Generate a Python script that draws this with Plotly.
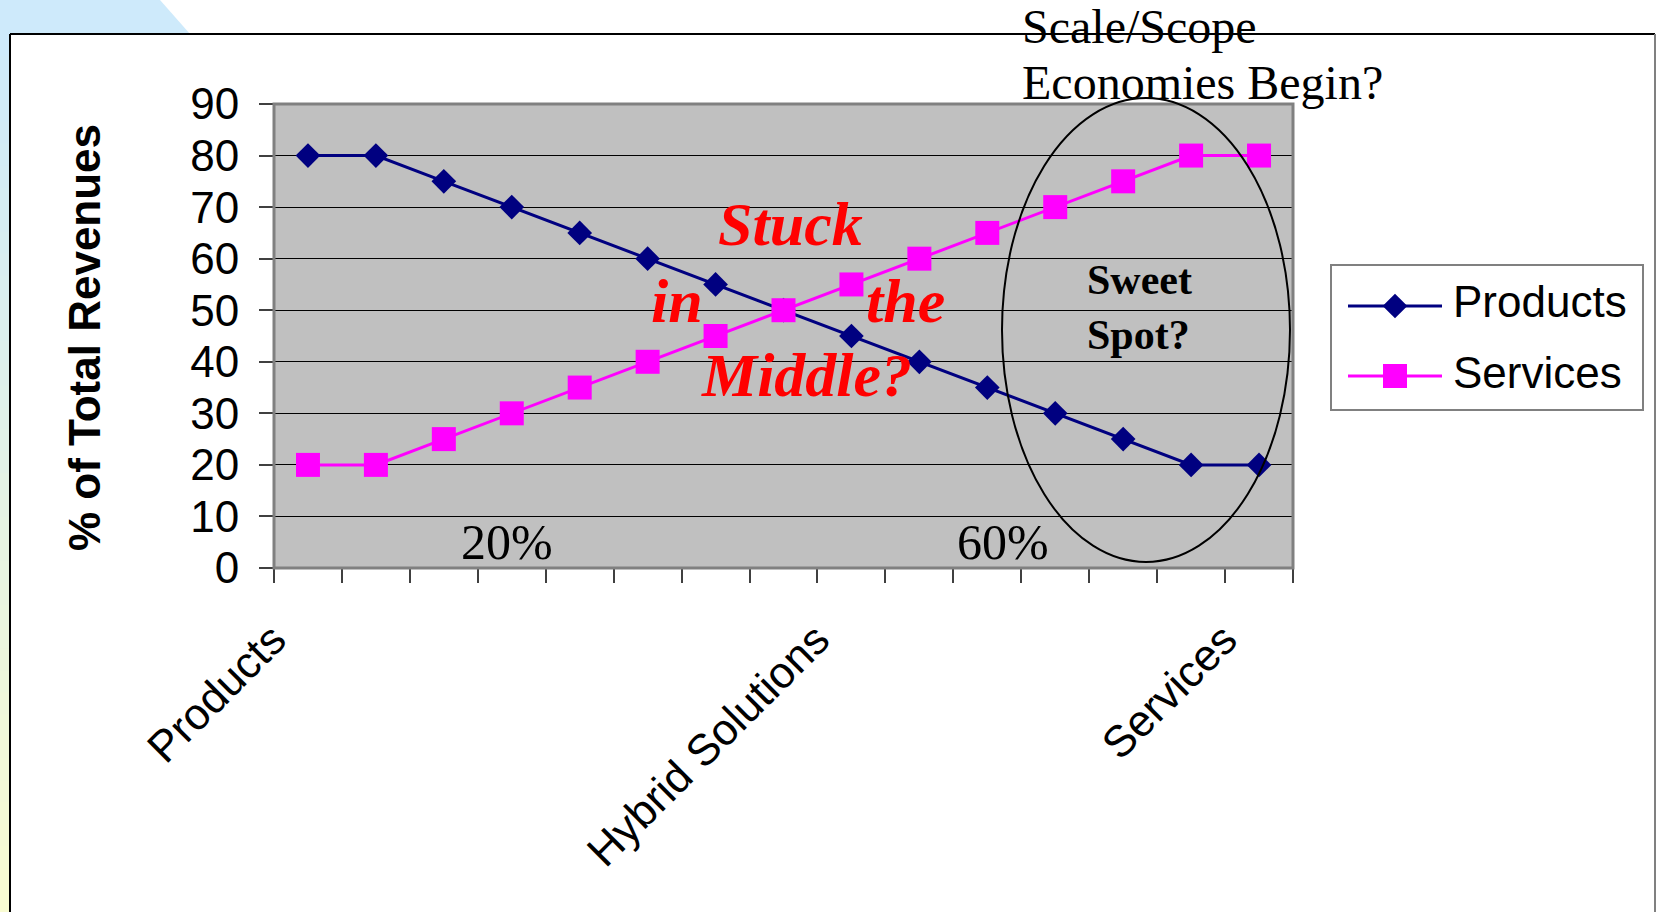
import numpy as np
import plotly.graph_objects as go

W, H = 1656, 912

# ---- data -------------------------------------------------------------
stages = list(range(1, 16))
products_pct = [80, 80, 75, 70, 65, 60, 55, 50, 45, 40, 35, 30, 25, 20, 20]
services_pct = [20, 20, 25, 30, 35, 40, 45, 50, 55, 60, 65, 70, 75, 80, 80]
stage_tick_pos = [1, 9, 15]
stage_tick_text = ["Products", "Hybrid Solutions", "Services"]
y_tick_vals = [0, 10, 20, 30, 40, 50, 60, 70, 80, 90]
series_names = ["Products", "Services"]

NAVY = "#000080"
MAGENTA = "#FF00FF"
SERIF = "Liberation Serif, Times New Roman, serif"
SANS = "Liberation Sans, Arial, sans-serif"
SANS_SIZE = 44
DIAMOND_SIZE = 19
SQUARE_SIZE = 24


def px(x):
    return x / W


def py(y):
    return 1 - y / H


fig = go.Figure()

fig.add_trace(go.Scatter(
    x=stages, y=products_pct, name=series_names[0], mode="lines+markers",
    line=dict(color=NAVY, width=3),
    marker=dict(symbol="diamond", size=DIAMOND_SIZE, color=NAVY, opacity=1, line=dict(width=0)),
    showlegend=False, hoverinfo="x+y+name"))
fig.add_trace(go.Scatter(
    x=stages, y=services_pct, name=series_names[1], mode="lines+markers",
    line=dict(color=MAGENTA, width=3),
    marker=dict(symbol="square", size=SQUARE_SIZE, color=MAGENTA, opacity=1, line=dict(width=0)),
    showlegend=False, hoverinfo="x+y+name"))

# legend samples drawn on a full-page pixel overlay axis
legend_rows = [306, 376]
for color, sym, size, row in [(NAVY, "diamond", DIAMOND_SIZE, legend_rows[0]),
                              (MAGENTA, "square", SQUARE_SIZE, legend_rows[1])]:
    fig.add_trace(go.Scatter(
        x=[1348, 1442], y=[row, row], mode="lines",
        line=dict(color=color, width=3),
        xaxis="x2", yaxis="y2", showlegend=False, hoverinfo="skip"))
    fig.add_trace(go.Scatter(
        x=[1395], y=[row], mode="markers",
        marker=dict(symbol=sym, size=size, color=color, opacity=1, line=dict(width=0)),
        xaxis="x2", yaxis="y2", showlegend=False, hoverinfo="skip"))

shapes = []

# slide background: blue corner and left gradient strip
shapes.append(dict(type="path", xref="paper", yref="paper", layer="below",
                   path=f"M0,1 L{px(160)},1 L{px(190)},{py(34)} L0,{py(34)} Z",
                   fillcolor="#CEEAFB", line=dict(width=0)))
c_top = np.array([206, 234, 251])
c_bot = np.array([249, 252, 210])
n_steps = 40
edges = np.linspace(34, H, n_steps + 1)
for i in range(n_steps):
    c = c_top + (c_bot - c_top) * (i / (n_steps - 1))
    shapes.append(dict(type="rect", xref="paper", yref="paper", layer="below",
                       x0=0, x1=px(10), y0=py(edges[i + 1] + 1), y1=py(edges[i]),
                       fillcolor=f"rgb({int(c[0])},{int(c[1])},{int(c[2])})",
                       line=dict(width=0)))
# white slide box borders
shapes.append(dict(type="line", xref="paper", yref="paper", layer="below",
                   x0=px(10), x1=px(1655), y0=py(34), y1=py(34),
                   line=dict(color="#000000", width=2)))
shapes.append(dict(type="line", xref="paper", yref="paper", layer="below",
                   x0=px(10), x1=px(10), y0=py(34), y1=0,
                   line=dict(color="#000000", width=2)))
shapes.append(dict(type="line", xref="paper", yref="paper", layer="below",
                   x0=px(1655), x1=px(1655), y0=py(34), y1=0,
                   line=dict(color="#808080", width=2)))

# plot area fill and border
shapes.append(dict(type="rect", xref="x domain", yref="y domain", layer="below",
                   x0=0, x1=1, y0=0, y1=1, fillcolor="#C0C0C0", line=dict(width=0)))
shapes.append(dict(type="rect", xref="x domain", yref="y domain", layer="above",
                   x0=0, x1=1, y0=0, y1=1, line=dict(color="#808080", width=3)))

# sweet-spot ellipse
shapes.append(dict(type="circle", xref="paper", yref="paper", layer="above",
                   x0=px(1002), x1=px(1290), y0=py(562), y1=py(98),
                   line=dict(color="#000000", width=2)))

# legend box
shapes.append(dict(type="rect", xref="paper", yref="paper", layer="below",
                   x0=px(1331), x1=px(1643), y0=py(410), y1=py(265),
                   fillcolor="#FFFFFF", line=dict(color="#808080", width=2)))

annotations = []


def note(text, x, y, size, family, color="#000000", xanchor="center", angle=0):
    annotations.append(dict(text=text, x=px(x), y=py(y), xref="paper", yref="paper",
                            xanchor=xanchor, yanchor="middle", showarrow=False,
                            textangle=angle, font=dict(size=size, family=family, color=color)))


note("<b>% of Total Revenues</b>", 84, 338, SANS_SIZE, SANS, angle=-90)
note("<b><i>Stuck</i></b>", 790, 224, 62, SERIF, "#FF0000")
note("<b><i>in</i></b>", 677, 301, 62, SERIF, "#FF0000")
note("<b><i>the</i></b>", 905, 301, 62, SERIF, "#FF0000")
note("<b><i>Middle?</i></b>", 806, 375, 62, SERIF, "#FF0000")
note("<b>Sweet</b>", 1085, 280, 42, SERIF, xanchor="left")
note("<b>Spot?</b>", 1085, 335, 42, SERIF, xanchor="left")
note("20%", 507, 542, 50, SERIF)
note("60%", 1003, 542, 50, SERIF)
note("Scale/Scope", 1020, 26, 48, SERIF, xanchor="left")
note("Economies Begin?", 1020, 82, 48, SERIF, xanchor="left")
note(series_names[0], 1451, 301, SANS_SIZE, SANS, xanchor="left")
note(series_names[1], 1451, 372, SANS_SIZE, SANS, xanchor="left")

fig.update_layout(
    template="none",
    width=W, height=H, autosize=False,
    margin=dict(l=0, r=0, t=0, b=0, pad=0, autoexpand=False),
    paper_bgcolor="#FFFFFF", plot_bgcolor="rgba(0,0,0,0)",
    showlegend=False,
    shapes=shapes, annotations=annotations,
    xaxis=dict(
        domain=[px(274), px(1293)], range=[0.5, 15.5], anchor="y", automargin=False,
        tickmode="array", tickvals=stage_tick_pos, ticktext=stage_tick_text,
        tickangle=-45, ticks="", showgrid=False, zeroline=False, showline=False,
        tickfont=dict(size=SANS_SIZE, family=SANS, color="#000000"),
        ticklabelstandoff=36, ticklabelshift=-35,
        minor=dict(tickmode="linear", tick0=0.5, dtick=1, ticks="outside",
                   ticklen=14, tickwidth=1.5, tickcolor="#404040", showgrid=False),
    ),
    yaxis=dict(
        domain=[py(568), py(104)], range=[0, 90], anchor="x", automargin=False,
        tickmode="array", tickvals=y_tick_vals,
        ticks="outside", ticklen=14, tickwidth=1.5, tickcolor="#404040",
        showgrid=True, gridcolor="#000000", gridwidth=1, zeroline=False, showline=False,
        tickfont=dict(size=SANS_SIZE, family=SANS, color="#000000"),
        ticklabelstandoff=11,
    ),
    xaxis2=dict(domain=[0, 1], range=[0, W], anchor="y2", visible=False,
                fixedrange=True, automargin=False),
    yaxis2=dict(domain=[0, 1], range=[H, 0], anchor="x2", visible=False,
                fixedrange=True, automargin=False),
)

fig.write_html("out.html")
